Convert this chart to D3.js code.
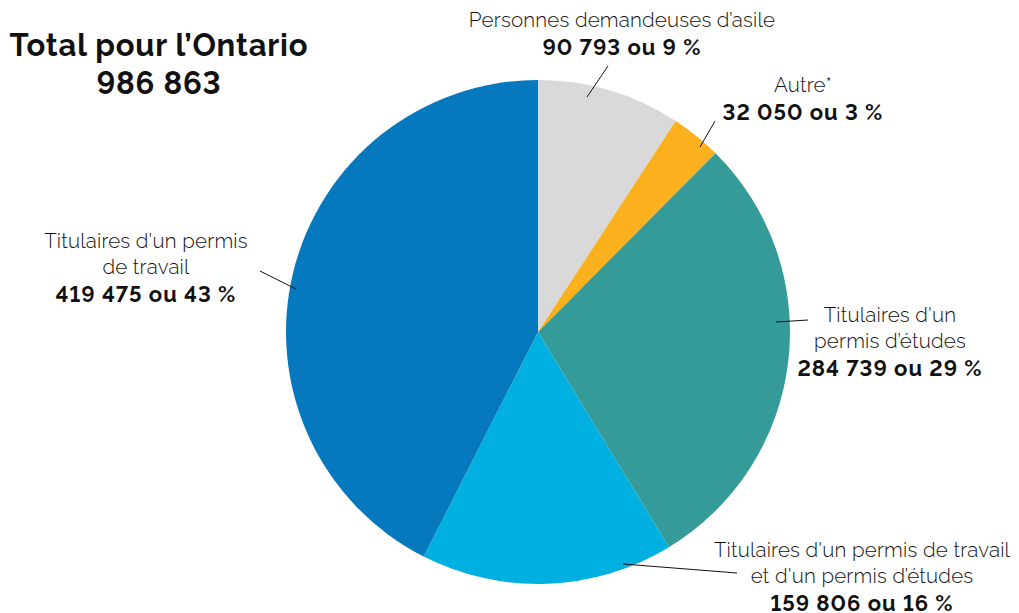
<!DOCTYPE html>
<html><head><meta charset="utf-8">
<script src="https://cdn.jsdelivr.net/npm/d3@7"></script>
<style>
body{margin:0;background:#fff;}
svg{display:block;}
text{font-family:Raleway,"Lato","Open Sans",sans-serif;fill:#111;font-variant-numeric:lining-nums;font-feature-settings:"lnum" 1;}
</style></head>
<body>
<script>
const categories = ["Personnes demandeuses d’asile","Autre*","Titulaires d’un permis d’études","Titulaires d’un permis de travail et d’un permis d’études","Titulaires d’un permis de travail"];
const values = [90793, 32050, 284739, 159806, 419475];
const valueLabels = ["90 793 ou 9 %","32 050 ou 3 %","284 739 ou 29 %","159 806 ou 16 %","419 475 ou 43 %"];
const labelLines = [["Personnes demandeuses d’asile"],["Autre*"],["Titulaires d'un","permis d’études"],["Titulaires d'un permis de travail","et d'un permis d’études"],["Titulaires d'un permis","de travail"]];
const colors = ["#d9d9d9","#fbb11d","#359b99","#00b0e0","#0578be"];
const totalTitle = "Total pour l’Ontario";
const totalValue = "986 863";

const W=1019,H=613, cx=538, cy=332, R=252;
const svg=d3.select("body").append("svg").attr("width",W).attr("height",H);

const pie=d3.pie().sort(null).value(d=>d)(values);
const arc=d3.arc().innerRadius(0).outerRadius(R);
const g=svg.append("g").attr("transform",`translate(${cx},${cy})`);
g.selectAll("path").data(pie).join("path")
 .attr("d",arc).attr("fill",(d,i)=>colors[i]);

// label layout (positions only)
const layout=[
 {x:622,y:27,line:[[608,66],[587,97]]},
 {x:803,y:92,line:[[715,121],[700,147]]},
 {x:890,y:322,line:[[808,320],[776,322]]},
 {x:862,y:557,line:[[737,573],[623,564]]},
 {x:146,y:248,line:[[260,271],[296,289]]}
];
const lh=25.5;
layout.forEach((L,i)=>{
  svg.append("line").attr("x1",L.line[0][0]).attr("y1",L.line[0][1])
   .attr("x2",L.line[1][0]).attr("y2",L.line[1][1])
   .attr("stroke","#111").attr("stroke-width",1);
  const t=svg.append("text").attr("text-anchor","middle");
  labelLines[i].forEach((s,j)=>{
    t.append("tspan").attr("x",L.x).attr("y",L.y+j*lh).attr("font-size",20.5)
     .attr("letter-spacing",0.2).attr("font-weight",300).text(s);
  });
  t.append("tspan").attr("x",L.x).attr("y",L.y+labelLines[i].length*lh+2.5)
   .attr("font-size",22).attr("letter-spacing",1).attr("font-weight",700).text(valueLabels[i]);
});

svg.append("text").attr("x",159).attr("y",56).attr("text-anchor","middle")
 .attr("font-size",31).attr("letter-spacing",0.8).attr("font-weight",700).text(totalTitle);
svg.append("text").attr("x",159).attr("y",94).attr("text-anchor","middle")
 .attr("font-size",31).attr("letter-spacing",0.8).attr("font-weight",700).text(totalValue);
</script>
</body></html>
